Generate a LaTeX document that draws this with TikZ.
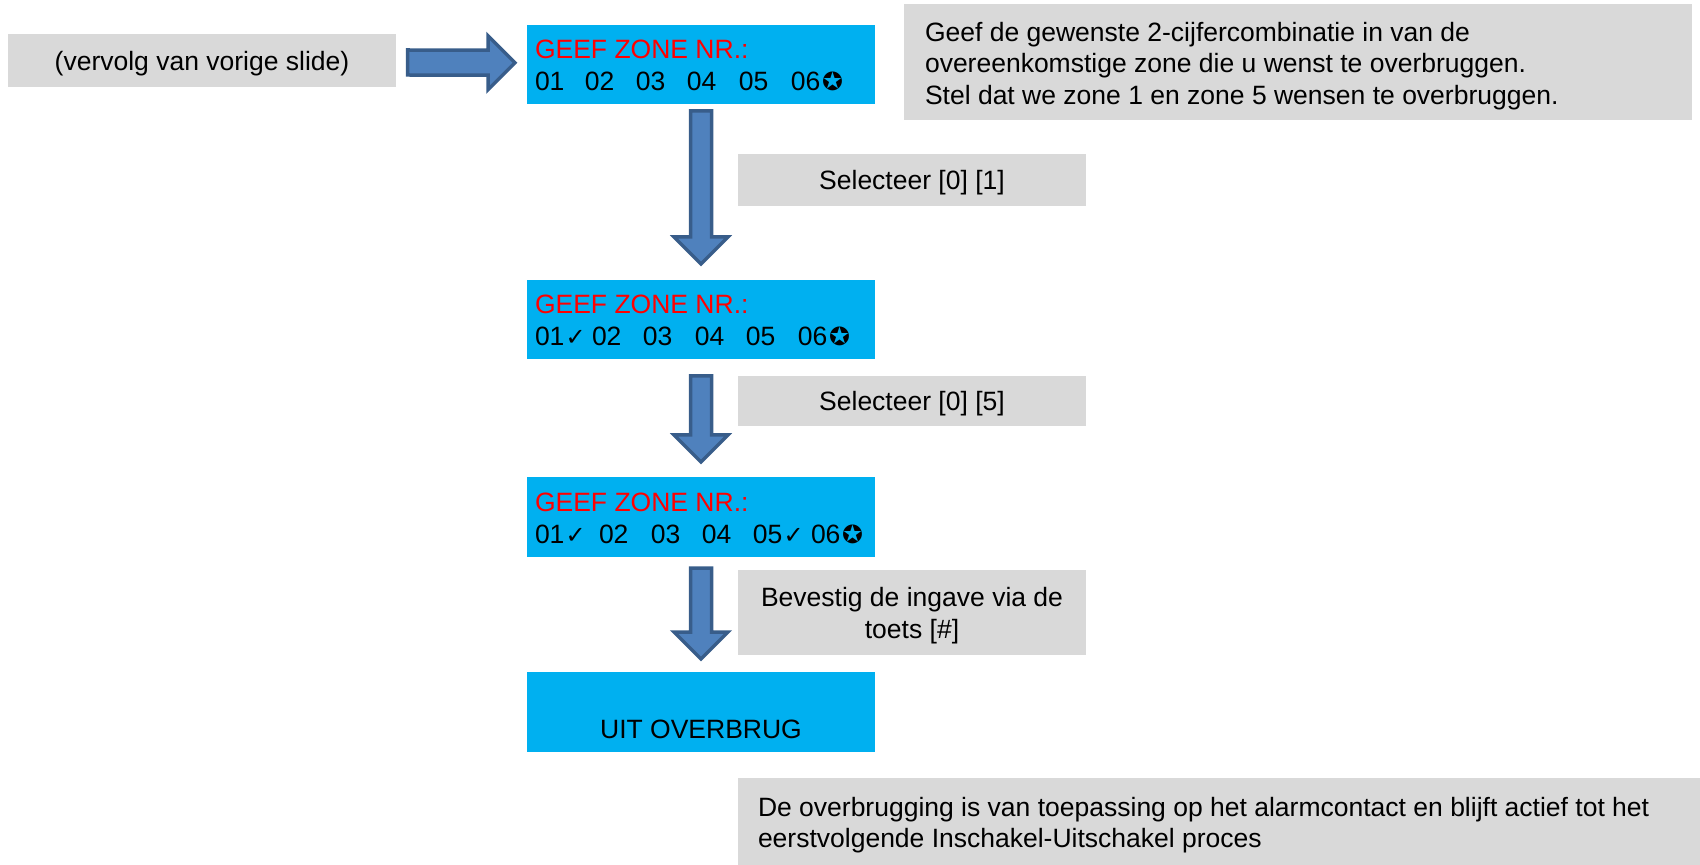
\documentclass[tikz,border=0pt]{standalone}
\usepackage{fontspec}
\setmainfont{Liberation Sans}
\newfontfamily\djv{DejaVu Sans}
\usetikzlibrary{calc}
\definecolor{lcdblue}{HTML}{00B0F0}
\definecolor{boxgray}{HTML}{D9D9D9}
\definecolor{arrfill}{HTML}{4F81BD}
\definecolor{arrline}{HTML}{385D8A}
\definecolor{lcdred}{HTML}{FF0000}
\newcommand\zt[2]{\makebox[#1][l]{#2}}
\newcommand\ck{\kern0.6pt{\djv\fontsize{12pt}{12pt}\selectfont ✓}}
\newcommand\st{\kern0.8pt{\djv\fontsize{12.5pt}{12pt}\selectfont ✪}}
\newcommand\blockdown[2]{%
  \draw[blockarrow] ($(#1)+(-10.5,0)$) -- ($(#2)+(-10.5,-27)$) -- ($(#2)+(-27,-27)$) -- (#2)
    -- ($(#2)+(27,-27)$) -- ($(#2)+(10.5,-27)$) -- ($(#1)+(10.5,0)$) -- cycle;}
\begin{document}
\begin{tikzpicture}[x=0.5pt,y=-0.5pt,
  every node/.style={font=\fontsize{13.25pt}{15.75pt}\selectfont, inner sep=0pt, outer sep=0pt},
  gbox/.style={fill=boxgray, anchor=north west},
  gtext/.style={align=center},
  lcd/.style={fill=lcdblue, minimum width=174pt, minimum height=39.75pt, anchor=north west},
  lcdtext/.style={anchor=base west},
  redtext/.style={anchor=base west, text=lcdred},
  blockarrow/.style={fill=arrfill, draw=arrline, line width=1.75pt, line join=miter}]
\useasboundingbox (0,0) rectangle (1700,865);

% gray boxes
\node[gbox, minimum width=194pt, minimum height=26.5pt] (prev) at (8,34) {};
\node[gtext] (prevtext) at ($(prev.center)+(0,3)$) {(vervolg van vorige slide)};
\node[gbox, minimum width=394pt, minimum height=58pt] (info) at (904,4) {};
\node[anchor=west, align=left] (infotext) at (925,66) {Geef de gewenste 2-cijfercombinatie in van de\\overeenkomstige zone die u wenst te overbruggen.\\Stel dat we zone 1 en zone 5 wensen te overbruggen.};
\node[gbox, minimum width=174pt, minimum height=26pt] (sel1) at (738,154) {};
\node[gtext] (sel1text) at ($(sel1.center)+(0,3)$) {Selecteer [0] [1]};
\node[gbox, minimum width=174pt, minimum height=25pt] (sel2) at (738,376) {};
\node[gtext] (sel2text) at ($(sel2.center)+(0,3)$) {Selecteer [0] [5]};
\node[gbox, minimum width=174pt, minimum height=42.5pt] (bev) at (738,570) {};
\node[gtext] (bevtext) at ($(bev.center)+(0,3)$) {Bevestig de ingave via de\\toets [\#]};
\node[gbox, minimum width=481pt, minimum height=43.5pt] (note) at (738,778) {};
\node[anchor=west, align=left] (notetext) at (758,825) {De overbrugging is van toepassing op het alarmcontact en blijft actief tot het\\eerstvolgende Inschakel-Uitschakel proces};

% LCD screens
\node[lcd] (lcd1) at (527,25) {};
\node[redtext] (l1a) at (535,59) {GEEF ZONE NR.:};
\node[lcdtext] (l1b) at (535,91) {\zt{25pt}{01}\zt{25.5pt}{02}\zt{25.5pt}{03}\zt{26pt}{04}\zt{26pt}{05}06\st};

\node[lcd] (lcd2) at (527,280) {};
\node[redtext] (l2a) at (535,314) {GEEF ZONE NR.:};
\node[lcdtext] (l2b) at (535,346) {\zt{28.5pt}{01\ck}\zt{25.5pt}{02}\zt{26pt}{03}\zt{25.5pt}{04}\zt{26pt}{05}06\st};

\node[lcd] (lcd3) at (527,477) {};
\node[redtext] (l3a) at (535,511) {GEEF ZONE NR.:};
\node[lcdtext] (l3b) at (535,543) {\zt{32pt}{01\ck}\zt{26pt}{02}\zt{25.5pt}{03}\zt{25.5pt}{04}\zt{29pt}{05\ck}06\st};

\node[lcd] (lcd4) at (527,672) {};
\node[anchor=base] (l4) at (701,738) {UIT OVERBRUG};

% right arrow
\coordinate (r1s) at ($(prev.east)+(11.5,2)$);
\coordinate (r1e) at ($(lcd1.west)+(-12,-2)$);
\draw[blockarrow] ($(r1s)+(0,-12.5)$) -- ($(r1e)+(-27,-12.5)$) -- ($(r1e)+(-27,-27)$) -- (r1e)
  -- ($(r1e)+(-27,27)$) -- ($(r1e)+(-27,12.5)$) -- ($(r1s)+(0,12.5)$) -- cycle;

% down arrows
\coordinate (d1s) at ($(lcd1.south)+(0,6.5)$);
\coordinate (d1e) at ($(lcd2.north)+(0,-16)$);
\coordinate (d2s) at ($(lcd2.south)+(0,16.5)$);
\coordinate (d2e) at ($(lcd3.north)+(0,-15)$);
\coordinate (d3s) at ($(lcd3.south)+(0,11.5)$);
\coordinate (d3e) at ($(lcd4.north)+(0,-13)$);
\blockdown{d1s}{d1e}
\blockdown{d2s}{d2e}
\blockdown{d3s}{d3e}
\end{tikzpicture}
\end{document}
